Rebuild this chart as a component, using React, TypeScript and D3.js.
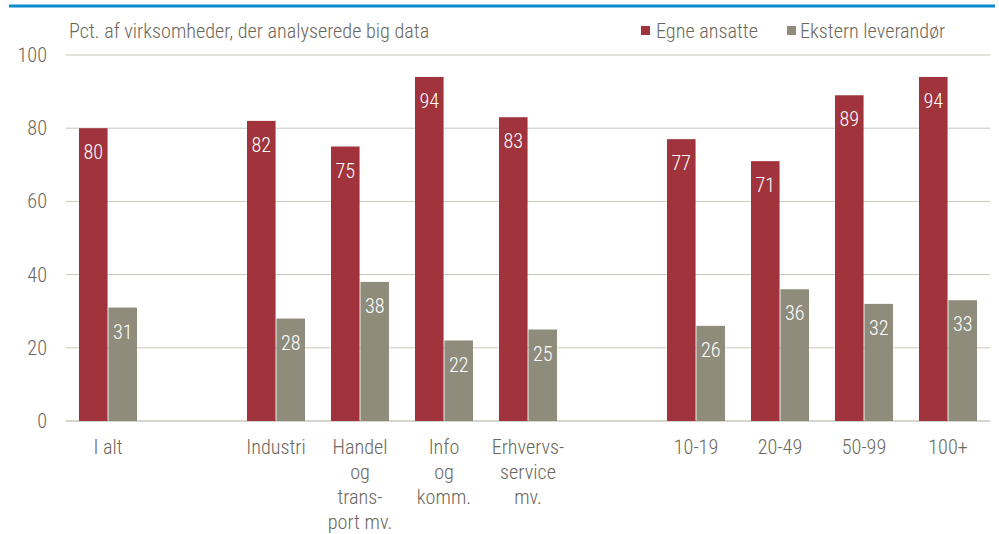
import React from "react";
import * as d3 from "d3";

const categories = ["I alt", "", "Industri", "Handel og trans- port mv.", "Info og komm.", "Erhvervs- service mv.", " ", "10-19", "20-49", "50-99", "100+"];
const categoryLines: string[][] = [["I alt"], [], ["Industri"], ["Handel", "og", "trans-", "port mv."], ["Info", "og", "komm."], ["Erhvervs-", "service", "mv."], [], ["10-19"], ["20-49"], ["50-99"], ["100+"]];
const egneAnsatte: (number | null)[] = [80, null, 82, 75, 94, 83, null, 77, 71, 89, 94];
const eksternLeverandor: (number | null)[] = [31, null, 28, 38, 22, 25, null, 26, 36, 32, 33];
const yTicks = [0, 20, 40, 60, 80, 100];
const seriesNames = ["Egne ansatte", "Ekstern leverandør"];

const W = 999;
const H = 534;
const RED = "#a0333b";
const GREY = "#8f8c7c";
const TEXT = "#6b685c";
const GRID = "#c9c6bc";
const FONT = "'Roboto Condensed', sans-serif";
const FS = 20.2;
const FW = 300;

export default function App() {
  const x0 = d3.scaleBand<string>().domain(categories).range([66, 990]).paddingInner(0).paddingOuter(0);
  const inner = d3.scaleBand<string>().domain(seriesNames).range([13, 71]).paddingInner(0.03);
  const y = d3.scaleLinear().domain([0, 100]).range([421, 55]);
  const series = [egneAnsatte, eksternLeverandor];
  const colors = [RED, GREY];

  return (
    <svg width={W} height={H} style={{ position: "absolute", left: 0, top: 0, background: "#fff" }} fontFamily={FONT} fontWeight={FW}>
      <line x1={9} x2={995} y1={6} y2={6} stroke="#0a8bcf" strokeWidth={3} />
      <text x={69} y={38} fontSize={FS} fill={TEXT}>Pct. af virksomheder, der analyserede big data</text>
      {/* legend */}
      <rect x={641} y={26} width={9} height={9} fill={RED} />
      <text x={656} y={38} fontSize={FS} fill={TEXT}>{seriesNames[0]}</text>
      <rect x={787} y={26} width={9} height={9} fill={GREY} />
      <text x={800} y={38} fontSize={FS} fill={TEXT}>{seriesNames[1]}</text>
      {yTicks.map((t) => (
        <g key={t}>
          <line x1={66} x2={990} y1={y(t)} y2={y(t)} stroke={GRID} strokeWidth={t === 0 ? 1.5 : 1} />
          <text x={47} y={y(t)} dy="0.35em" textAnchor="end" fontSize={FS} fill={TEXT}>{t}</text>
        </g>
      ))}
      {categories.map((c, i) => (
        <g key={i} transform={`translate(${x0(c)},0)`}>
          {series.map((s, j) => {
            const v = s[i];
            if (v == null) return null;
            const bx = inner(seriesNames[j])!;
            const bw = inner.bandwidth();
            return (
              <g key={j}>
                <rect x={bx} y={y(v)} width={bw} height={y(0) - y(v)} fill={colors[j]} />
                <text x={bx + bw / 2} y={y(v) + 24} dy="0.35em" textAnchor="middle" fontSize={FS} fill="#fff">{v}</text>
              </g>
            );
          })}
          {categoryLines[i].map((ln, k) => (
            <text key={k} x={x0.bandwidth() / 2} y={447 + k * 25} dy="0.35em" textAnchor="middle" fontSize={FS} fill={TEXT}>{ln}</text>
          ))}
        </g>
      ))}
    </svg>
  );
}
